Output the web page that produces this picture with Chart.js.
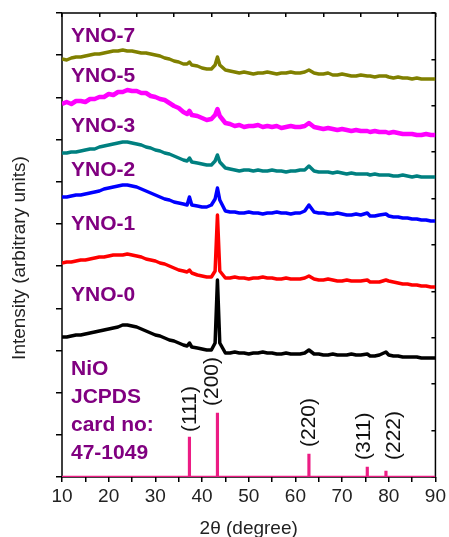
<!DOCTYPE html>
<html>
<head>
<meta charset="utf-8">
<script src="https://cdn.jsdelivr.net/npm/chart.js@4.4.1/dist/chart.umd.min.js"></script>
<style>
  html, body { margin: 0; padding: 0; background: #fff; }
</style>
</head>
<body>
<canvas id="xrdChart" width="449" height="537"></canvas>
<script>
// 2-theta positions (degree) shared by every pattern
const twoTheta = [
  10, 11, 12, 13, 14, 15, 16, 17, 18, 19, 20, 21, 22, 23, 24, 25, 26, 27, 28, 29, 30, 31, 32, 33, 34, 35, 36,
  36.8, 37.3, 37.8,
  39, 40, 41, 42,
  42.8, 43.3, 43.8,
  45, 46, 47, 48, 49, 50, 51, 52, 53, 54, 55, 56, 57, 58, 59, 60, 61, 62,
  62.9,
  64, 65, 66, 67, 68, 69, 70, 71, 72, 73, 74,
  75.4,
  76, 77, 78,
  79.4,
  80, 81, 82, 83, 84, 85, 86, 87, 88, 89, 90
];

// sample names, bottom to top
const sampleNames = ["YNO-0", "YNO-1", "YNO-2", "YNO-3", "YNO-5", "YNO-7"];
// vertical offset of each stacked pattern (arbitrary units)
const sampleOffsets = [140, 214, 280, 324, 373, 418];

// intensities relative to the value at 10 degrees
const yno0 = [
  0, 0, 1, 2, 2, 3, 4, 5, 6, 7, 8, 9, 10, 12, 12, 11, 10, 8, 6, 4, 2, 1, -1, -3, -4, -6, -8,
  -9, -6, -10,
  -11, -12, -13, -13,
  -6, 57, -6,
  -16, -16, -15, -16, -16, -17, -16, -16, -15, -16, -16, -17, -17, -16, -17, -17, -17, -16,
  -13,
  -17, -17, -18, -18, -17, -18, -18, -18, -17, -18, -18,
  -17,
  -19, -19, -18,
  -15,
  -18, -19, -19, -20, -20, -20, -20, -21, -21, -21, -21
];
const yno1 = [
  0, 1, 1, 2, 3, 3, 4, 5, 6, 6, 7, 8, 8, 8, 9, 8, 7, 6, 4, 3, 2, 0, -1, -3, -5, -7, -8,
  -9, -7, -10,
  -12, -13, -14, -14,
  -8, 48, -8,
  -15, -15, -14, -15, -15, -16, -15, -15, -14, -15, -15, -16, -16, -15, -16, -16, -16, -15,
  -13,
  -16, -17, -17, -16, -17, -18, -18, -17, -18, -18, -18,
  -17,
  -19, -19, -19,
  -17,
  -18, -19, -20, -21, -21, -22, -22, -23, -23, -24, -24
];
const yno2 = [
  0, 0, 1, 2, 2, 3, 4, 5, 6, 8, 9, 10, 11, 12, 12, 11, 10, 8, 6, 4, 2, 0, -2, -3, -5, -6, -7,
  -8, 0, -8,
  -9, -10, -10, -8,
  -2, 9, -3,
  -14, -15, -15, -16, -16, -15, -16, -16, -17, -16, -16, -15, -16, -16, -17, -16, -16, -14,
  -8,
  -15, -16, -16, -17, -17, -16, -17, -18, -18, -17, -18,
  -16,
  -19, -19, -18,
  -17,
  -19, -20, -20, -21, -21, -22, -22, -23, -23, -24, -24
];
const yno3 = [
  0, 0, 1, 1, 2, 3, 4, 4, 6, 7, 8, 9, 10, 11, 11, 10, 9, 8, 6, 5, 3, 2, 0, -1, -3, -5, -7,
  -8, -5, -9,
  -10, -11, -12, -12,
  -8, -2, -9,
  -15, -16, -17, -18, -17, -17, -18, -17, -18, -18, -17, -18, -18, -19, -18, -18, -17, -17,
  -13,
  -18, -19, -19, -19, -20, -19, -20, -21, -20, -21, -21,
  -21,
  -22, -21, -22,
  -22,
  -22, -23, -23, -22, -23, -24, -23, -24, -24, -24, -24
];
const yno5 = [
  0, 2, 0, 3, 3, 2, 5, 5, 7, 7, 10, 9, 12, 12, 14, 13, 13, 11, 11, 8, 7, 5, 4, 1, -2, -4, -8,
  -10, -7, -11,
  -12, -14, -16, -15,
  -11, -5, -12,
  -19, -20, -22, -21, -23, -22, -22, -21, -23, -22, -23, -22, -24, -23, -22, -23, -23, -22,
  -19,
  -23, -24, -25, -24, -25, -26, -25, -26, -27, -26, -27,
  -27,
  -28, -27, -28,
  -28,
  -29, -28, -29, -30, -30, -30, -31, -31, -30, -31, -31
];
const yno7 = [
  0, -1, 1, 2, 2, 3, 4, 5, 5, 6, 7, 8, 8, 9, 8, 8, 7, 6, 6, 5, 4, 3, 1, 0, -2, -3, -5,
  -5, -3, -6,
  -7, -9, -10, -10,
  -6, 2, -6,
  -11, -12, -13, -14, -13, -14, -15, -14, -14, -13, -14, -15, -14, -14, -13, -14, -14, -13,
  -11,
  -14, -15, -15, -14, -16, -16, -15, -16, -17, -17, -16,
  -17,
  -17, -18, -17,
  -17,
  -18, -19, -18, -19, -19, -20, -19, -20, -20, -20, -20
];
const sampleValues = [yno0, yno1, yno2, yno3, yno5, yno7];
const sampleColors = ["#000000", "#ff0000", "#0000ff", "#008080", "#ff00ff", "#808000"];

// NiO reference, JCPDS card 47-1049
const refPositions = [37.3, 43.3, 62.9, 75.4, 79.4];
const refIntensity = [40, 64, 23, 10, 6];
const refPlanes = ["(111)", "(200)", "(220)", "(311)", "(222)"];
const refNote = ["NiO", "JCPDS", "card no:", "47-1049"];

const pink = "#ec1c84";
const purple = "#800080";
const FONT = '"Liberation Sans", Arial, sans-serif';

// build the line datasets from the arrays above
const datasets = sampleValues.map((vals, i) => ({
  type: "line",
  label: sampleNames[i],
  data: twoTheta.map((t, j) => ({ x: t, y: vals[j] + sampleOffsets[i] })),
  borderColor: sampleColors[i],
  borderWidth: sampleNames[i] === "YNO-5" ? 4.5 : 3.5,
  borderJoinStyle: "round",
  pointRadius: 0,
  tension: 0,
  xAxisID: "x",
  yAxisID: "y",
}));

datasets.push({
  type: "bar",
  label: "NiO",
  data: refPositions.map((p, i) => ({ x: p, y: refIntensity[i] })),
  backgroundColor: pink,
  barThickness: 2.5,
  xAxisID: "x",
  yAxisID: "y",
});

datasets.push({
  type: "line",
  label: "baseline",
  data: [{ x: 10, y: 0 }, { x: 90, y: 0 }],
  borderColor: pink,
  borderWidth: 2.5,
  pointRadius: 0,
  xAxisID: "x",
  yAxisID: "y",
});

// plot frame, drawn under the datasets so the pink baseline stays on top
const framePlugin = {
  id: "frame",
  beforeDatasetsDraw(chart) {
    const { ctx, chartArea: ca } = chart;
    ctx.save();
    ctx.strokeStyle = "#000";
    ctx.lineWidth = 1.5;
    ctx.strokeRect(ca.left, ca.top, ca.right - ca.left, ca.bottom - ca.top);
    ctx.restore();
  },
};

// text: sample names, card note, plane indices, axis titles
const labelPlugin = {
  id: "xrdLabels",
  afterDraw(chart) {
    const ctx = chart.ctx;
    const xs = chart.scales.x;
    ctx.save();

    // sample names (pixel rows of the labels, bottom to top)
    const nameRows = [295, 224, 170, 126, 76, 36];
    ctx.fillStyle = purple;
    ctx.font = "bold 21px " + FONT;
    ctx.textBaseline = "middle";
    ctx.textAlign = "left";
    sampleNames.forEach((n, i) => ctx.fillText(n, 71, nameRows[i]));
    const noteRows = [369, 397, 425, 453];
    refNote.forEach((n, i) => ctx.fillText(n, 71, noteRows[i]));

    // plane indices, rotated
    const planeDx = [1, -5, 0, -3, 8];
    const planeBottom = [432, 406, 447, 460, 460];
    ctx.fillStyle = "#111";
    ctx.font = "21px " + FONT;
    refPlanes.forEach((p, i) => {
      ctx.save();
      ctx.translate(xs.getPixelForValue(refPositions[i]) + planeDx[i], planeBottom[i]);
      ctx.rotate(-Math.PI / 2);
      ctx.textAlign = "left";
      ctx.fillText(p, 0, 0);
      ctx.restore();
    });

    // axis titles
    ctx.fillStyle = "#222";
    ctx.font = "19px " + FONT;
    ctx.textAlign = "center";
    const ca = chart.chartArea;
    ctx.fillText("2θ (degree)", (ca.left + ca.right) / 2, 529);
    ctx.save();
    ctx.translate(20, 258);
    ctx.rotate(-Math.PI / 2);
    ctx.fillText("Intensity (arbitrary units)", 0, 0);
    ctx.restore();

    ctx.restore();
  },
};

const noBorder = { display: false };

new Chart(document.getElementById("xrdChart"), {
  type: "line",
  data: { datasets: datasets },
  options: {
    responsive: false,
    animation: false,
    layout: { padding: 0 },
    plugins: {
      legend: { display: false },
      tooltip: { enabled: false },
    },
    scales: {
      x: {
        type: "linear",
        position: "bottom",
        min: 10,
        max: 90,
        offset: false,
        border: noBorder,
        grid: { drawOnChartArea: false, offset: false, color: "#000", lineWidth: 1.5, tickLength: 5 },
        ticks: {
          stepSize: 5,
          autoSkip: false,
          maxRotation: 0,
          padding: 3,
          color: "#222",
          font: { family: FONT, size: 19 },
          callback: (v) => (v % 10 === 0 ? v : ""),
        },
        afterFit: (s) => { s.height = 60; },
      },
      x2: {
        type: "linear",
        position: "top",
        min: 0,
        max: 10,
        offset: false,
        border: noBorder,
        grid: { drawOnChartArea: false, offset: false, color: "#000", lineWidth: 1.5, tickLength: -4 },
        ticks: { display: false, stepSize: 1 },
        afterFit: (s) => { s.height = 13; },
      },
      y: {
        type: "linear",
        position: "left",
        min: 0,
        max: 464,
        border: noBorder,
        grid: { drawOnChartArea: false, color: "#000", lineWidth: 1.5, tickLength: 6 },
        ticks: { display: false },
        afterBuildTicks: (s) => {
          s.ticks = [];
          for (let i = 0; i <= 11; i++) s.ticks.push({ value: (464 * i) / 11 });
        },
        afterFit: (s) => { s.width = 62; },
      },
      y2: {
        type: "linear",
        position: "right",
        min: 0,
        max: 464,
        border: noBorder,
        grid: { drawOnChartArea: false, color: "#000", lineWidth: 1.5, tickLength: -4 },
        ticks: { display: false },
        afterBuildTicks: (s) => {
          s.ticks = [];
          for (let i = 0; i <= 10; i++) s.ticks.push({ value: (464 * i) / 10 });
        },
        afterFit: (s) => { s.width = 12; },
      },
    },
  },
  plugins: [framePlugin, labelPlugin],
});
</script>
</body>
</html>
